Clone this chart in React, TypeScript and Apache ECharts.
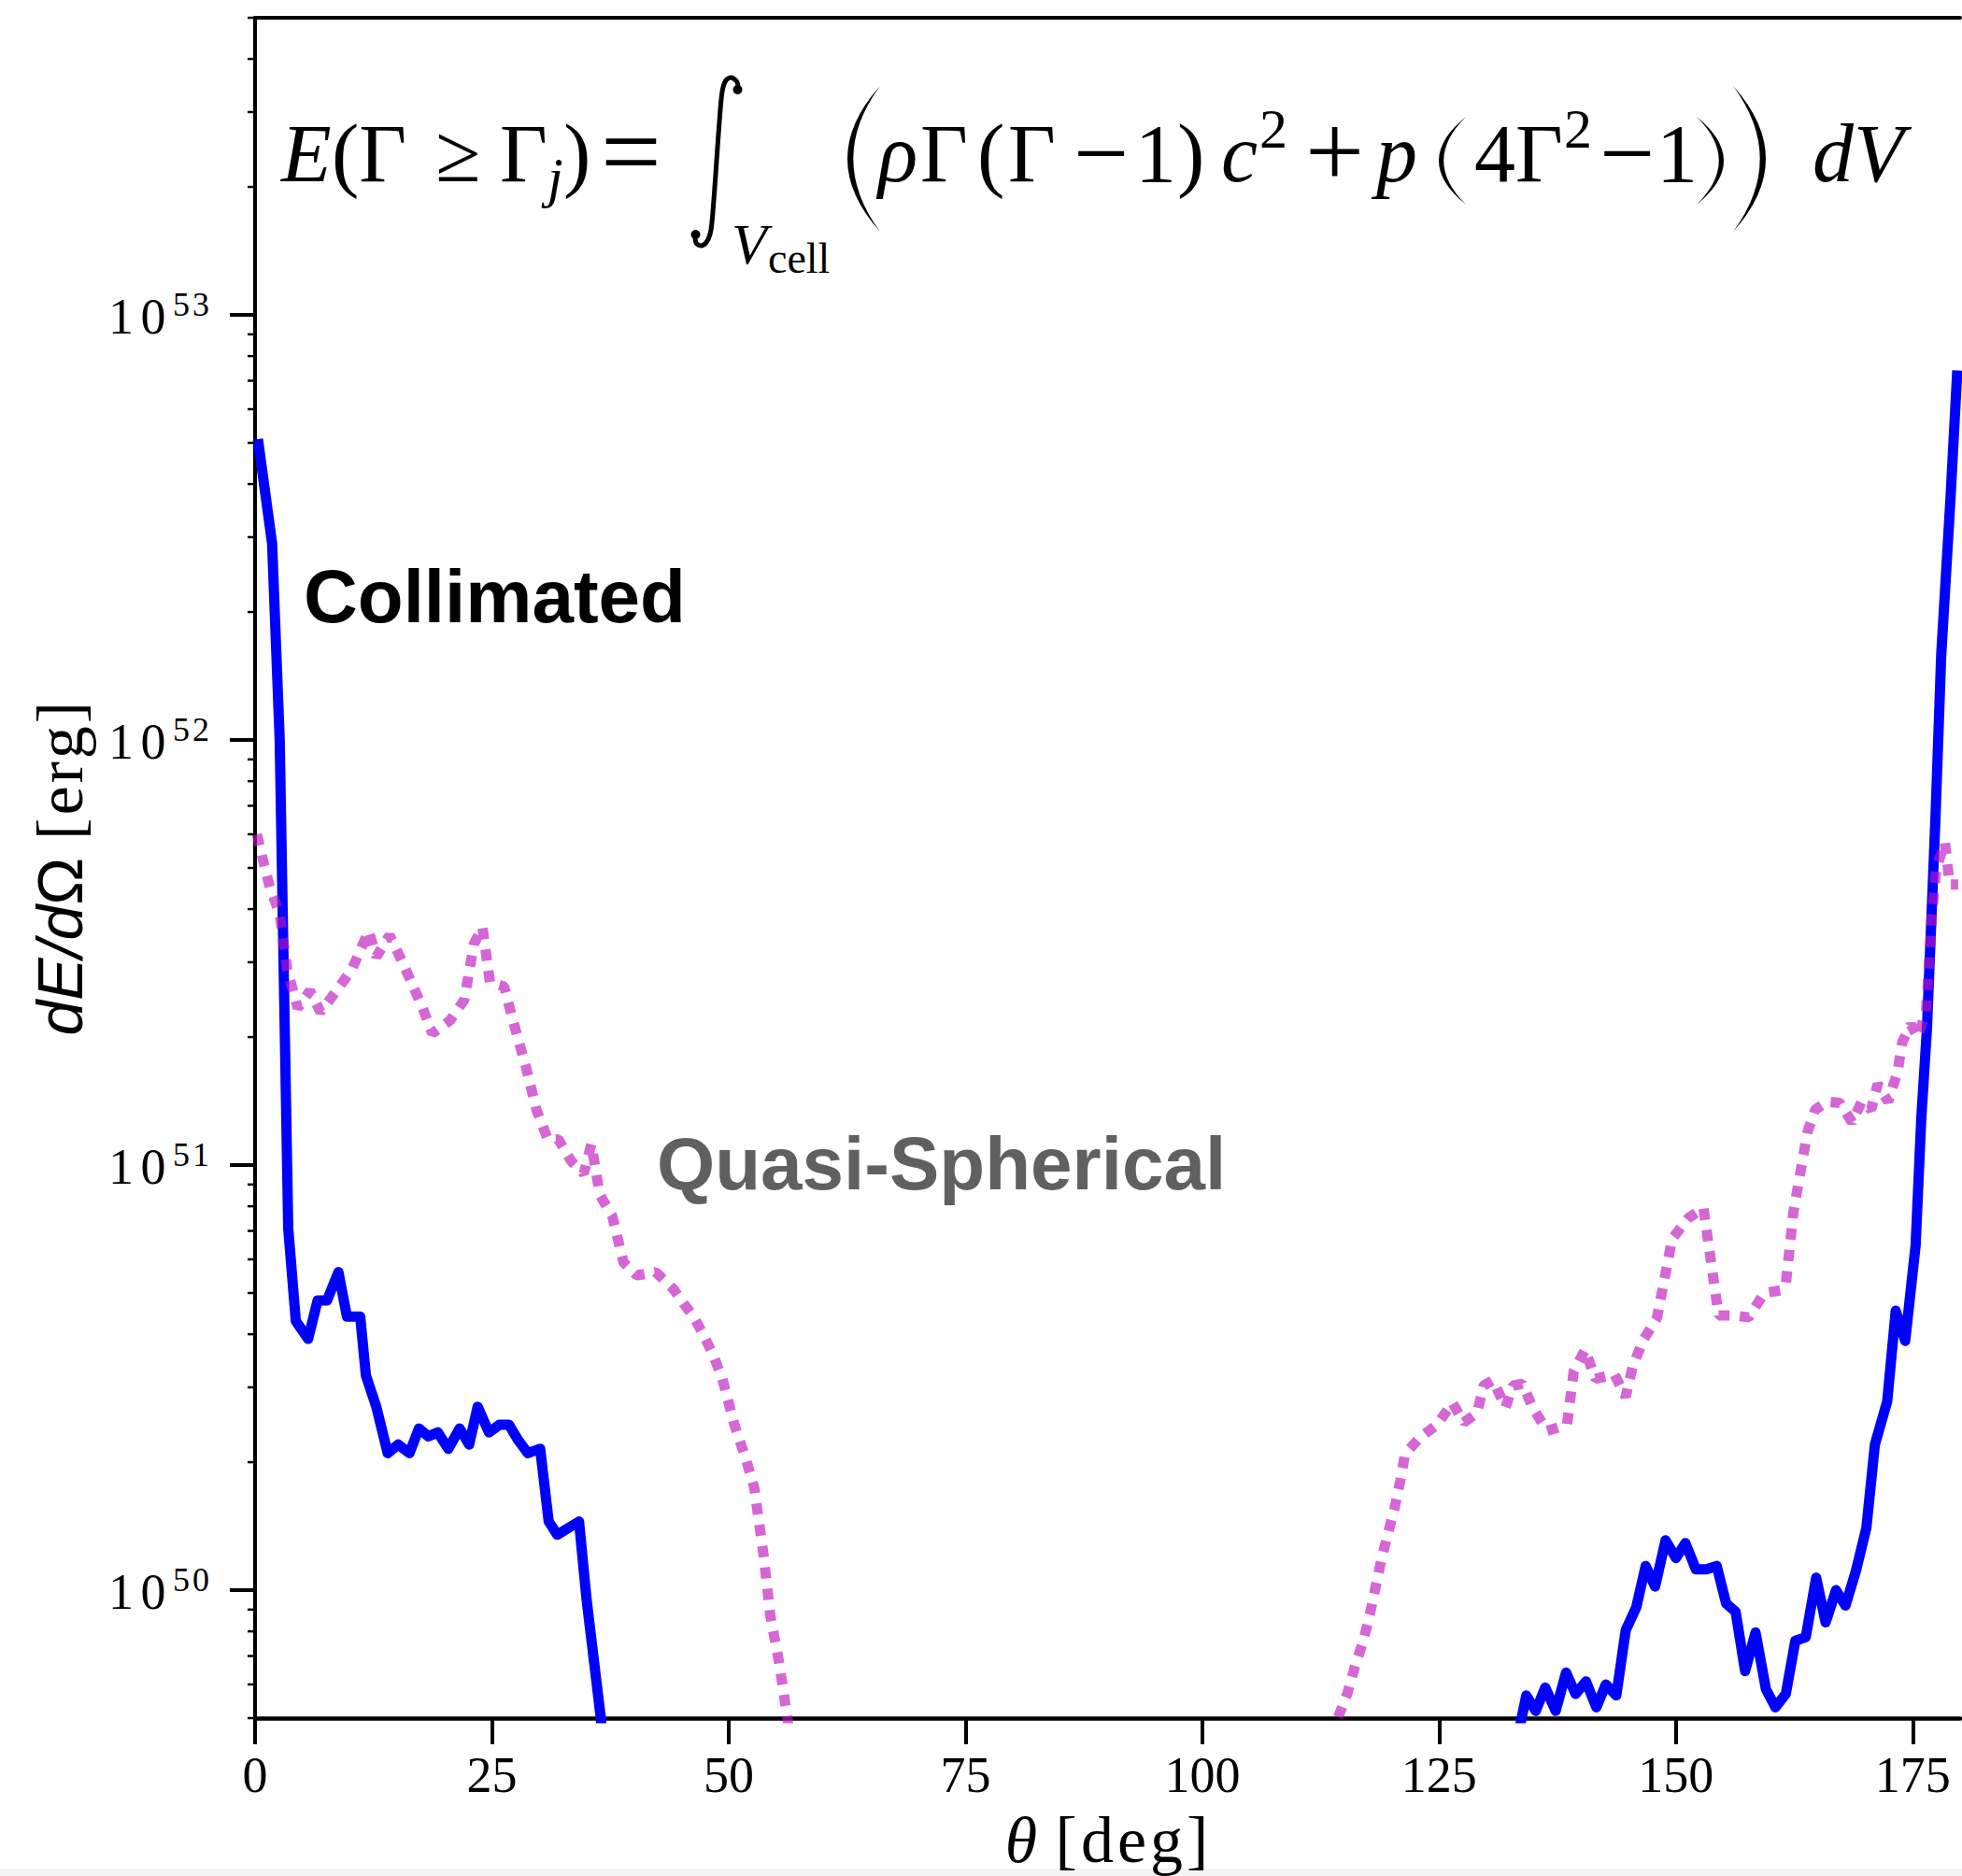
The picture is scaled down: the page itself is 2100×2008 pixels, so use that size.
import React, { useEffect, useRef } from 'react';
import * as echarts from 'echarts';

// ---------- axis ticks ----------
const thetaTicks = [0, 25, 50, 75, 100, 125, 150, 175];
const decadeTicks = [1e50, 1e51, 1e52, 1e53];
const minorTicks = [
  5e49, 6e49, 7e49, 8e49, 9e49,
  2e50, 3e50, 4e50, 5e50, 6e50, 7e50, 8e50, 9e50,
  2e51, 3e51, 4e51, 5e51, 6e51, 7e51, 8e51, 9e51,
  2e52, 3e52, 4e52, 5e52, 6e52, 7e52, 8e52, 9e52,
  2e53, 3e53, 4e53, 5e53,
];
const Y_MIN = 5e49;
const Y_MAX = 5e53;

// ---------- dE/dΩ [erg] versus θ [deg] ----------
// collimated outflow, northern lobe
const collimatedNorth = [
  [0.3, 5.1e52], [1.8, 2.9e52], [2.6, 1.0e52], [3.5, 7.1e50], [4.3, 4.3e50],
  [5.6, 3.9e50], [6.6, 4.8e50], [7.6, 4.8e50], [8.8, 5.6e50], [9.7, 4.4e50],
  [11.1, 4.4e50], [11.7, 3.2e50], [12.8, 2.7e50], [14.0, 2.1e50], [15.1, 2.2e50],
  [16.3, 2.1e50], [17.3, 2.4e50], [18.3, 2.3e50], [19.3, 2.35e50], [20.4, 2.15e50],
  [21.6, 2.4e50], [22.6, 2.2e50], [23.5, 2.7e50], [24.7, 2.35e50], [25.8, 2.45e50],
  [26.8, 2.45e50], [27.8, 2.25e50], [28.8, 2.1e50], [30.1, 2.15e50], [31.0, 1.45e50],
  [31.9, 1.35e50], [34.2, 1.45e50], [35.0, 9.5e49], [36.5, 5.0e49], [37.3, 2.8e49],
];
// collimated outflow, southern lobe
const collimatedSouth = [
  [133.0, 4.2e49], [134.2, 5.65e49], [135.2, 5.2e49], [136.2, 5.9e49], [137.3, 5.2e49],
  [138.4, 6.4e49], [139.4, 5.7e49], [140.5, 6.1e49], [141.6, 5.3e49], [142.6, 6.0e49],
  [143.7, 5.65e49], [144.7, 8.05e49], [145.8, 9.1e49], [146.8, 1.14e50], [147.8, 1.02e50],
  [148.9, 1.31e50], [150.0, 1.19e50], [151.0, 1.29e50], [152.1, 1.12e50], [153.2, 1.12e50],
  [154.3, 1.14e50], [155.3, 9.3e49], [156.3, 8.9e49], [157.3, 6.45e49], [158.4, 7.95e49],
  [159.5, 5.85e49], [160.5, 5.3e49], [161.6, 5.7e49], [162.6, 7.6e49], [163.7, 7.75e49],
  [164.8, 1.07e50], [165.8, 8.4e49], [166.9, 1.0e50], [167.9, 9.2e49], [169.0, 1.11e50],
  [170.1, 1.4e50], [171.0, 2.2e50], [172.3, 2.78e50], [173.2, 4.54e50], [174.2, 3.86e50],
  [175.3, 6.47e50], [175.9, 1.29e51], [176.5, 2.1e51], [177.4, 6.6e51], [178.0, 1.58e52],
  [179.0, 3.76e52], [179.7, 7.4e52],
];
// quasi-spherical outflow, northern side
const quasiNorth = [
  [0.2, 6.0e51], [0.8, 5.25e51], [1.6, 4.47e51], [2.6, 3.9e51], [3.4, 2.88e51],
  [4.5, 2.34e51], [5.8, 2.57e51], [6.9, 2.29e51], [8.6, 2.57e51], [10.2, 2.88e51],
  [12.0, 3.55e51], [12.8, 3.09e51], [14.2, 3.47e51], [15.5, 3.02e51], [16.7, 2.63e51],
  [17.7, 2.34e51], [18.7, 2.04e51], [20.6, 2.19e51], [22.1, 2.45e51], [23.1, 3.31e51],
  [24.0, 3.63e51], [24.8, 2.69e51], [26.3, 2.63e51], [27.1, 2.24e51], [28.6, 1.7e51],
  [29.7, 1.35e51], [30.9, 1.15e51], [32.0, 1.15e51], [33.4, 1.02e51], [34.7, 9.55e50],
  [35.5, 1.12e51], [36.4, 8.5e50], [37.7, 7.6e50], [38.9, 5.9e50], [40.3, 5.5e50],
  [42.3, 5.6e50], [44.2, 5.1e50], [45.3, 4.7e50], [46.3, 4.4e50], [47.3, 4.0e50],
  [48.3, 3.6e50], [49.3, 3.16e50], [50.6, 2.45e50], [51.8, 2.04e50], [52.7, 1.74e50],
  [53.7, 1.2e50], [54.4, 8.7e49], [55.3, 6.8e49], [56.2, 5.0e49], [57.0, 3.5e49],
];
// quasi-spherical outflow, southern side
const quasiSouth = [
  [113.6, 3.55e49], [114.3, 5.0e49], [115.3, 5.7e49], [116.1, 6.6e49], [117.0, 7.6e49],
  [117.7, 8.8e49], [118.3, 1.02e50], [118.9, 1.18e50], [119.6, 1.36e50], [120.3, 1.56e50],
  [120.9, 1.81e50], [121.4, 2.09e50], [123.0, 2.29e50], [124.8, 2.45e50], [126.4, 2.76e50],
  [127.6, 2.48e50], [129.0, 2.61e50], [129.7, 3.03e50], [130.7, 3.12e50], [132.0, 2.69e50],
  [132.8, 3.03e50], [133.8, 3.06e50], [134.9, 2.68e50], [136.4, 2.37e50], [138.5, 2.45e50],
  [139.2, 3.26e50], [140.4, 3.68e50], [141.5, 3.14e50], [143.5, 3.22e50], [144.7, 2.85e50],
  [145.4, 3.34e50], [146.5, 3.86e50], [148.0, 4.37e50], [149.6, 6.71e50], [151.3, 7.5e50],
  [152.9, 7.94e50], [154.5, 4.43e50], [156.0, 4.43e50], [157.7, 4.38e50], [159.3, 5.0e50],
  [161.0, 5.07e50], [161.6, 5.25e50], [162.4, 7.76e50], [163.9, 1.2e51], [164.7, 1.35e51],
  [166.0, 1.41e51], [167.3, 1.4e51], [168.6, 1.26e51], [169.6, 1.41e51], [170.6, 1.35e51],
  [171.3, 1.55e51], [172.4, 1.41e51], [173.4, 1.66e51], [173.9, 1.95e51], [174.8, 2.14e51],
  [175.5, 2.0e51], [176.4, 2.29e51], [177.0, 3.8e51], [177.5, 5.0e51], [178.4, 5.75e51],
  [178.9, 4.57e51], [179.8, 4.57e51],
];

const SERIF = '"Liberation Serif", "Times New Roman", serif';
const SANS = '"Liberation Sans", Arial, sans-serif';
const BLUE = '#0000ff';
const ORCHID = 'rgba(190, 20, 190, 0.65)';

// Tall delimiters for the formula, drawn as filled crescents in a unit box.
let shapesReady = false;
function registerDelimiters() {
  if (shapesReady) return;
  echarts.graphic.registerShape(
    'lparen',
    echarts.graphic.extendPath('M 1 0 Q -1 0.5 1 1 Q -0.64 0.5 1 0 Z', {})
  );
  echarts.graphic.registerShape(
    'rparen',
    echarts.graphic.extendPath('M 0 0 Q 2 0.5 0 1 Q 1.64 0.5 0 0 Z', {})
  );
  shapesReady = true;
}

// Serif glyph positioned by its baseline (central baseline offset of Liberation Serif).
function glyph(text: string, x: number, baseline: number, size: number, italic = false) {
  return {
    type: 'text',
    x,
    y: baseline - 0.3375 * size,
    silent: true,
    style: {
      text,
      font: `${italic ? 'italic ' : ''}${size}px ${SERIF}`,
      fill: '#000',
      textAlign: 'left',
      textVerticalAlign: 'middle',
    },
  };
}

// Binary operator centred on the math axis.
function operator(text: string, x: number, axisY: number, size: number) {
  return glyph(text, x, axisY + 0.2525 * size, size);
}

function delimiter(kind: 'lparen' | 'rparen', x: number, y: number, w: number, h: number) {
  return { type: kind, x, y, scaleX: w, scaleY: h, silent: true, style: { fill: '#000' } };
}

function buildFormula() {
  const B = 194;
  const F = 88;
  const AX = 172;
  const sup = B - 36;
  return [
    glyph('E', 301, B, F, true),
    glyph('(Γ', 355, B, F),
    glyph('≥', 466, B, F),
    glyph('Γ', 535, B, F),
    glyph('j', 586, B + 16, 60, true),
    glyph(')', 603, B, F),
    operator('=', 643, AX, 115),
    {
      type: 'polyline',
      silent: true,
      shape: {
        points: [
          [790, 97], [789, 88], [783, 83], [777, 86], [773, 98], [770, 130],
          [767, 172], [764, 214], [761, 246], [757, 258], [751, 263], [745, 260], [744, 251],
        ],
        smooth: 0.3,
      },
      style: { stroke: '#000', lineWidth: 5, fill: null, lineCap: 'round' },
    },
    { type: 'circle', silent: true, shape: { cx: 789.5, cy: 96, r: 5 }, style: { fill: '#000' } },
    { type: 'circle', silent: true, shape: { cx: 744.5, cy: 251, r: 5 }, style: { fill: '#000' } },
    glyph('V', 783, 282, 62, true),
    glyph('cell', 822, 292, 46),
    delimiter('lparen', 907, 92, 35, 156),
    glyph('ρ', 940, B, F, true),
    glyph('Γ', 985, B, F),
    glyph('(', 1046, B, F),
    glyph('Γ', 1079, B, F),
    operator('−', 1149, AX, 105),
    glyph('1', 1215, B, F),
    glyph(')', 1260, B, F),
    glyph('c', 1307, B, F, true),
    glyph('2', 1348, sup, 60),
    operator('+', 1397, AX, 112),
    glyph('p', 1473, B, F, true),
    delimiter('lparen', 1540, 125, 29, 94),
    glyph('4Γ', 1578, B, F),
    glyph('2', 1674, sup, 60),
    operator('−', 1712, AX, 105),
    glyph('1', 1773, B, F),
    delimiter('rparen', 1816, 125, 29, 94),
    delimiter('rparen', 1855, 92, 35, 156),
    glyph('dV', 1940, B, F, true),
  ];
}

// Left-axis ticks and 10^n labels, placed through the log scale.
function renderYTick(params: any, api: any) {
  const v = api.value(1);
  const major = api.value(2) === 1;
  const p = api.coord([0, v]);
  const x0 = p[0];
  const y = p[1];
  const children: any[] = [
    {
      type: 'line',
      shape: { x1: x0 - (major ? 27 : 8), y1: y, x2: x0, y2: y },
      style: { stroke: '#000', lineWidth: major ? 4 : 2.5 },
    },
  ];
  if (major) {
    const exp = String(Math.round(Math.log10(v)));
    const digit = (ch: string, dx: number, dy: number, size: number) => ({
      type: 'text',
      x: x0 + dx,
      y: y + dy,
      style: { text: ch, font: `${size}px ${SERIF}`, fill: '#000', textAlign: 'left', textVerticalAlign: 'middle' },
    });
    children.push(digit('1', -157, 2.4, 54));
    children.push(digit('0', -122.5, 2.4, 54));
    children.push(digit(exp[0], -88, -11.5, 36));
    children.push(digit(exp[1], -67, -11.5, 36));
  }
  return { type: 'group', children };
}

function buildOption() {
  const tickData = [
    ...decadeTicks.map((v) => [0, v, 1]),
    ...minorTicks.map((v) => [0, v, 0]),
  ];
  const lineCommon = { type: 'line', showSymbol: false, symbol: 'none', clip: true, silent: true, emphasis: { disabled: true } };
  const blueStyle = { color: BLUE, width: 11, join: 'round' };
  const orchidStyle = { color: ORCHID, width: 11, type: [12, 11], cap: 'butt' };
  return {
    animation: false,
    backgroundColor: 'transparent',
    textStyle: { fontFamily: SERIF, color: '#000' },
    grid: { left: 273, right: 2, top: 19, bottom: 169, containLabel: false, outerBoundsMode: 'none' },
    xAxis: [
      {
        type: 'value',
        min: 0,
        max: 180,
        interval: 25,
        position: 'bottom',
        axisLine: { show: true, onZero: false, lineStyle: { color: '#000', width: 4.5 } },
        axisTick: { show: true, inside: false, length: 28, customValues: thetaTicks, lineStyle: { color: '#000', width: 4 } },
        axisLabel: { customValues: thetaTicks, margin: 38, lineHeight: 46, fontSize: 54, fontFamily: SERIF, color: '#000' },
        splitLine: { show: false },
        name: '{t|θ} {d|[}{d|d}{d|e}{d|g}{d|]}',
        nameLocation: 'middle',
        nameGap: 95,
        nameMoveOverlap: false,
        nameTextStyle: {
          color: '#000',
          fontFamily: SERIF,
          fontSize: 70,
          lineHeight: 70,
          rich: {
            t: { fontFamily: SERIF, fontStyle: 'italic', fontSize: 70, lineHeight: 70, color: '#000' },
            d: { fontFamily: SERIF, fontSize: 70, lineHeight: 70, color: '#000', padding: [0, 2, 0, 2] },
          },
        },
      },
      {
        type: 'value',
        min: 0,
        max: 180,
        position: 'top',
        axisLine: { show: true, onZero: false, lineStyle: { color: '#000', width: 4 } },
        axisTick: { show: false },
        axisLabel: { show: false },
        splitLine: { show: false },
      },
    ],
    yAxis: {
      type: 'log',
      logBase: 10,
      min: Y_MIN,
      max: Y_MAX,
      axisLine: { show: true, onZero: false, lineStyle: { color: '#000', width: 4 } },
      axisTick: { show: false },
      axisLabel: { show: false },
      splitLine: { show: false },
      minorTick: { show: false },
      name: '{a|dE/d}{o|Ω} {b|[}{b|e}{b|r}{b|g}{b|]}',
      nameLocation: 'middle',
      nameRotate: 90,
      nameGap: 174,
      nameMoveOverlap: false,
      nameTextStyle: {
        color: '#000',
        fontFamily: SERIF,
        fontSize: 70,
        rich: {
          a: { fontFamily: SANS, fontStyle: 'italic', fontSize: 68, lineHeight: 70, color: '#000' },
          o: { fontFamily: SANS, fontSize: 68, lineHeight: 70, color: '#000' },
          b: { fontFamily: SERIF, fontSize: 70, lineHeight: 70, color: '#000', padding: [0, 1.5, 0, 1.5] },
        },
      },
    },
    series: [
      { ...lineCommon, name: 'Collimated', data: collimatedNorth, z: 3, lineStyle: blueStyle },
      { ...lineCommon, name: 'Collimated', data: collimatedSouth, z: 3, lineStyle: blueStyle },
      { ...lineCommon, name: 'Quasi-Spherical', data: quasiNorth, z: 4, lineStyle: orchidStyle },
      { ...lineCommon, name: 'Quasi-Spherical', data: quasiSouth, z: 4, lineStyle: orchidStyle },
      {
        type: 'custom',
        name: 'yTicks',
        coordinateSystem: 'cartesian2d',
        xAxisIndex: 0,
        yAxisIndex: 0,
        encode: { x: 0, y: 1 },
        data: tickData,
        clip: false,
        silent: true,
        z: 6,
        renderItem: renderYTick,
      },
    ],
    graphic: [
      {
        type: 'text',
        x: 325,
        y: 638,
        silent: true,
        style: { text: 'Collimated', font: `bold 80px ${SANS}`, fill: '#000', textAlign: 'left', textVerticalAlign: 'middle' },
      },
      {
        type: 'text',
        x: 703,
        y: 1245,
        silent: true,
        style: { text: 'Quasi-Spherical', font: `bold 80px ${SANS}`, fill: '#606060', textAlign: 'left', textVerticalAlign: 'middle' },
      },
      ...buildFormula(),
    ],
  };
}

export default function App() {
  const ref = useRef<HTMLDivElement>(null);
  useEffect(() => {
    if (!ref.current) return;
    registerDelimiters();
    const chart = echarts.init(ref.current, null, { renderer: 'svg', width: 2100, height: 2008 });
    chart.setOption(buildOption() as any);
    return () => chart.dispose();
  }, []);
  return (
    <div
      ref={ref}
      style={{
        position: 'absolute',
        left: 0,
        top: 0,
        width: 2100,
        height: 2008,
        background: 'linear-gradient(#ffffff 0px, #ffffff 2000px, #f4f4f4 2000px)',
      }}
    />
  );
}
